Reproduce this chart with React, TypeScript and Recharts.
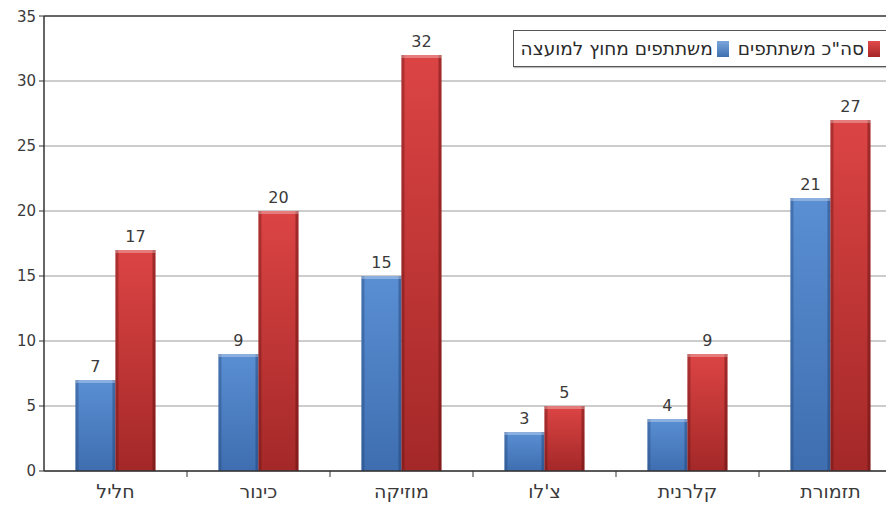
import { BarChart, Bar, XAxis, YAxis, CartesianGrid, LabelList, ReferenceLine } from "recharts";

const categories = ["חליל", "כינור", "מוזיקה", "צ'לו", "קלרנית", "תזמורת"];
const outsideCouncil = [7, 9, 15, 3, 4, 21];
const totalParticipants = [17, 20, 32, 5, 9, 27];
const yTicks = [0, 5, 10, 15, 20, 25, 30, 35];

const outsideName = "משתתפים מחוץ למועצה";
const totalName = 'סה"כ משתתפים';

const data = categories.map((name, i) => ({
  name,
  outside: outsideCouncil[i],
  total: totalParticipants[i],
}));

const FONT = "'DejaVu Sans', Verdana, sans-serif";

// x-axis label plus the small separator tick on the left of each category
const CategoryTick = (props: any) => {
  const { x, y, payload, index } = props;
  const band = 858 / categories.length;
  return (
    <g>
      {index > 0 && (
        <line x1={x - band / 2} x2={x - band / 2} y1={y - 8} y2={y - 2} stroke="#333" />
      )}
      <text x={x} y={y + 19} textAnchor="middle" fill="#3a3a3a" fontSize={19} fontFamily={FONT}>
        {payload.value}
      </text>
    </g>
  );
};

const BevelBar = (props: any) => {
  const { x, y, width, height, grad, edge } = props;
  if (!height || height <= 0) return null;
  return (
    <g>
      <rect x={x} y={y} width={width} height={height} fill={`url(#${grad})`} />
      <rect x={x} y={y} width={3} height={height} fill={edge} opacity={0.35} />
      <rect x={x + width - 3} y={y} width={3} height={height} fill={edge} opacity={0.45} />
      <rect x={x} y={y} width={width} height={3} fill="#ffffff" opacity={0.3} />
    </g>
  );
};

const LegendBox = () => (
  <div
    style={{
      position: "absolute",
      top: 22,
      right: 6,
      direction: "rtl",
      border: "1.5px solid #555",
      background: "#fff",
      padding: "7px 7px",
      display: "flex",
      alignItems: "center",
      gap: 4,
      fontFamily: FONT,
      fontSize: 18.5,
      color: "#2a2a2a",
      whiteSpace: "nowrap",
      boxShadow: "1px 1px 1px rgba(0,0,0,0.25)",
    }}
  >
    <span style={{ width: 12, height: 16, background: "linear-gradient(#e24a4a,#a52626)", display: "inline-block" }} />
    <span>{totalName}</span>
    <span style={{ width: 12, height: 16, background: "linear-gradient(#7aa6dc,#3f6fb0)", display: "inline-block", marginRight: 5 }} />
    <span>{outsideName}</span>
  </div>
);

export default function App() {
  return (
    <div style={{ width: 886, height: 497, overflow: "hidden", position: "relative" }}>
      <BarChart
        width={894}
        height={497}
        data={data}
        margin={{ top: 8, right: 0, bottom: 0, left: 0 }}
        barCategoryGap="22%"
        barGap={0}
      >
        <defs>
          <linearGradient id="blueGrad" x1="0" y1="0" x2="0" y2="1">
            <stop offset="0%" stopColor="#5a8fd3" />
            <stop offset="100%" stopColor="#3e6eb0" />
          </linearGradient>
          <linearGradient id="redGrad" x1="0" y1="0" x2="0" y2="1">
            <stop offset="0%" stopColor="#dc4444" />
            <stop offset="100%" stopColor="#a42828" />
          </linearGradient>
        </defs>
        <CartesianGrid vertical={false} stroke="#9a9a9a" />
        <ReferenceLine y={35} stroke="#444" strokeWidth={1.5} />
        <XAxis
          dataKey="name"
          height={34}
          tickLine={false}
          axisLine={{ stroke: "#333", strokeWidth: 1.5 }}
          tick={<CategoryTick />}
          interval={0}
        />
        <YAxis
          width={36}
          domain={[0, 35]}
          ticks={yTicks}
          tickLine={{ stroke: "#333" }}
          tickSize={5}
          axisLine={{ stroke: "#333", strokeWidth: 1.5 }}
          tick={{ fill: "#3a3a3a", fontSize: 15, fontFamily: FONT }}
          tickMargin={3}
        />
        <Bar
          dataKey="outside"
          name={outsideName}
          isAnimationActive={false}
          shape={<BevelBar grad="blueGrad" edge="#1f3f70" />}
        >
          <LabelList dataKey="outside" position="top" offset={8} fill="#3a3a3a" fontSize={16} fontFamily={FONT} />
        </Bar>
        <Bar
          dataKey="total"
          name={totalName}
          isAnimationActive={false}
          shape={<BevelBar grad="redGrad" edge="#5a0d0d" />}
        >
          <LabelList dataKey="total" position="top" offset={8} fill="#3a3a3a" fontSize={16} fontFamily={FONT} />
        </Bar>
      </BarChart>
      <LegendBox />
    </div>
  );
}
